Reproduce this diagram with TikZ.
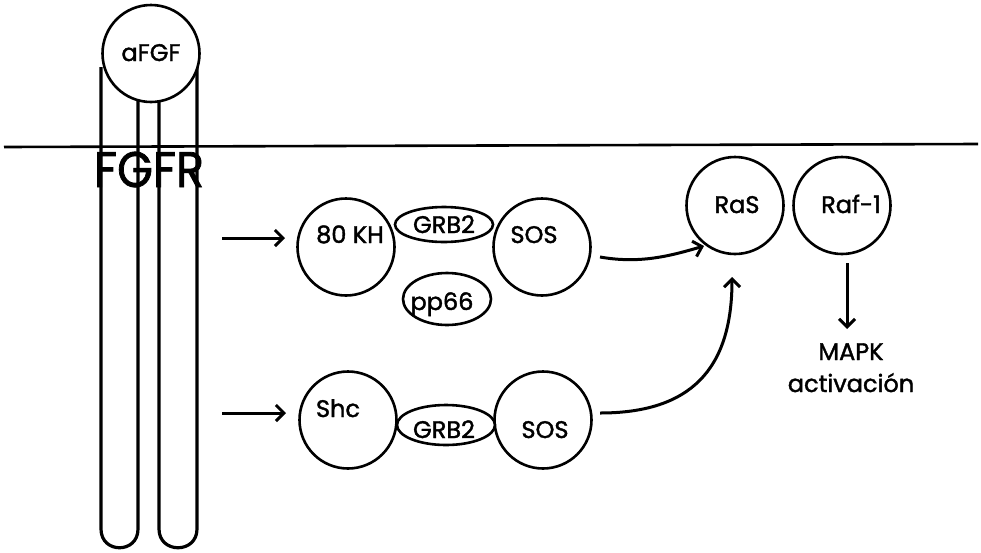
\documentclass[tikz,border=0pt]{standalone}
\usepackage{fontspec}
\setmainfont{Poppins}[FakeBold=1.6]
\usetikzlibrary{arrows.meta,shapes.geometric}
\begin{document}
\begin{tikzpicture}[x=1pt,y=-1pt,
  mol/.style={circle, draw, line width=2.6pt, minimum size=97pt, inner sep=0pt, fill=white},
  oval/.style={ellipse, draw, line width=2.6pt, inner sep=0pt, fill=white},
  lbl/.style={anchor=base, inner sep=0pt, font=\fontsize{24}{26}\selectfont},
  rec/.style={line width=3.2pt},
  arr/.style={line width=3pt, -{Straight Barb[length=8pt,width=16pt,line width=3pt]}}
]
\useasboundingbox (0,0) rectangle (981,552);

% membrane
\coordinate (m1) at (4,147);
\coordinate (m2) at (978,144);
\draw[line width=2.6pt] (m1) -- (m2);

% receptor
\draw[rec] (101,67) -- (101,529) .. controls (101,554) and (138,554) .. (138,529) -- (138,90);
\draw[rec] (159,90) -- (159,529) .. controls (159,554) and (197,554) .. (197,529) -- (197,60);
\node[mol] (afgf) at (151,53.5) {};
\node[lbl] (afgft) at (151,61) {aFGF};
\node[lbl, font=\fontsize{50}{52}\selectfont, xscale=0.92] (fgfr) at (149,187) {FGFR};

% upper complex
\node[mol] (kh) at (346,247) {};
\node[lbl] (kht) at (350,243) {80 KH};
\node[oval, minimum width=98pt, minimum height=35pt] (grb1) at (444,224.5) {};
\node[lbl] (grb1t) at (444,233) {GRB2};
\node[mol] (sos1) at (542,247) {};
\node[lbl] (sos1t) at (534,243) {SOS};
\node[oval, minimum width=88pt, minimum height=52pt] (pp) at (447,299) {};
\node[lbl] (ppt) at (442,310) {pp66};

% lower complex
\node[mol] (shc) at (348,420) {};
\node[lbl] (shct) at (338,417) {Shc};
\node[mol] (sos2) at (543,420) {};
\node[lbl] (sos2t) at (545,438) {SOS};
\node[oval, minimum width=98pt, minimum height=40pt] (grb2) at (446,425) {};
\node[lbl] (grb2t) at (444,438) {GRB2};

% Ras / Raf
\node[mol] (ras) at (735,205.5) {};
\node[lbl] (rast) at (737,213) {RaS};
\node[mol] (raf) at (842,205.5) {};
\node[lbl] (raft) at (851,213) {Raf-1};
\node[lbl] (mapk) at (851,360) {MAPK};
\node[lbl] (act) at (851,392) {activación};

% arrows
\coordinate (a1s) at (222,238);
\coordinate (a1e) at (285,238);
\draw[arr] (a1s) -- (a1e);
\coordinate (a2s) at (222,413);
\coordinate (a2e) at (286,413);
\draw[arr] (a2s) -- (a2e);
\coordinate (c1s) at (600,257);
\coordinate (c1e) at (704,246);
\draw[arr] (c1s) .. controls (640,264) and (670,256) .. (c1e);
\coordinate (c2s) at (600,413);
\coordinate (c2e) at (732,277);
\draw[arr] (c2s) .. controls (690,413) and (732,370) .. (c2e);
\coordinate (d1s) at (847,263);
\coordinate (d1e) at (847,329);
\draw[arr] (d1s) -- (d1e);
\end{tikzpicture}
\end{document}
